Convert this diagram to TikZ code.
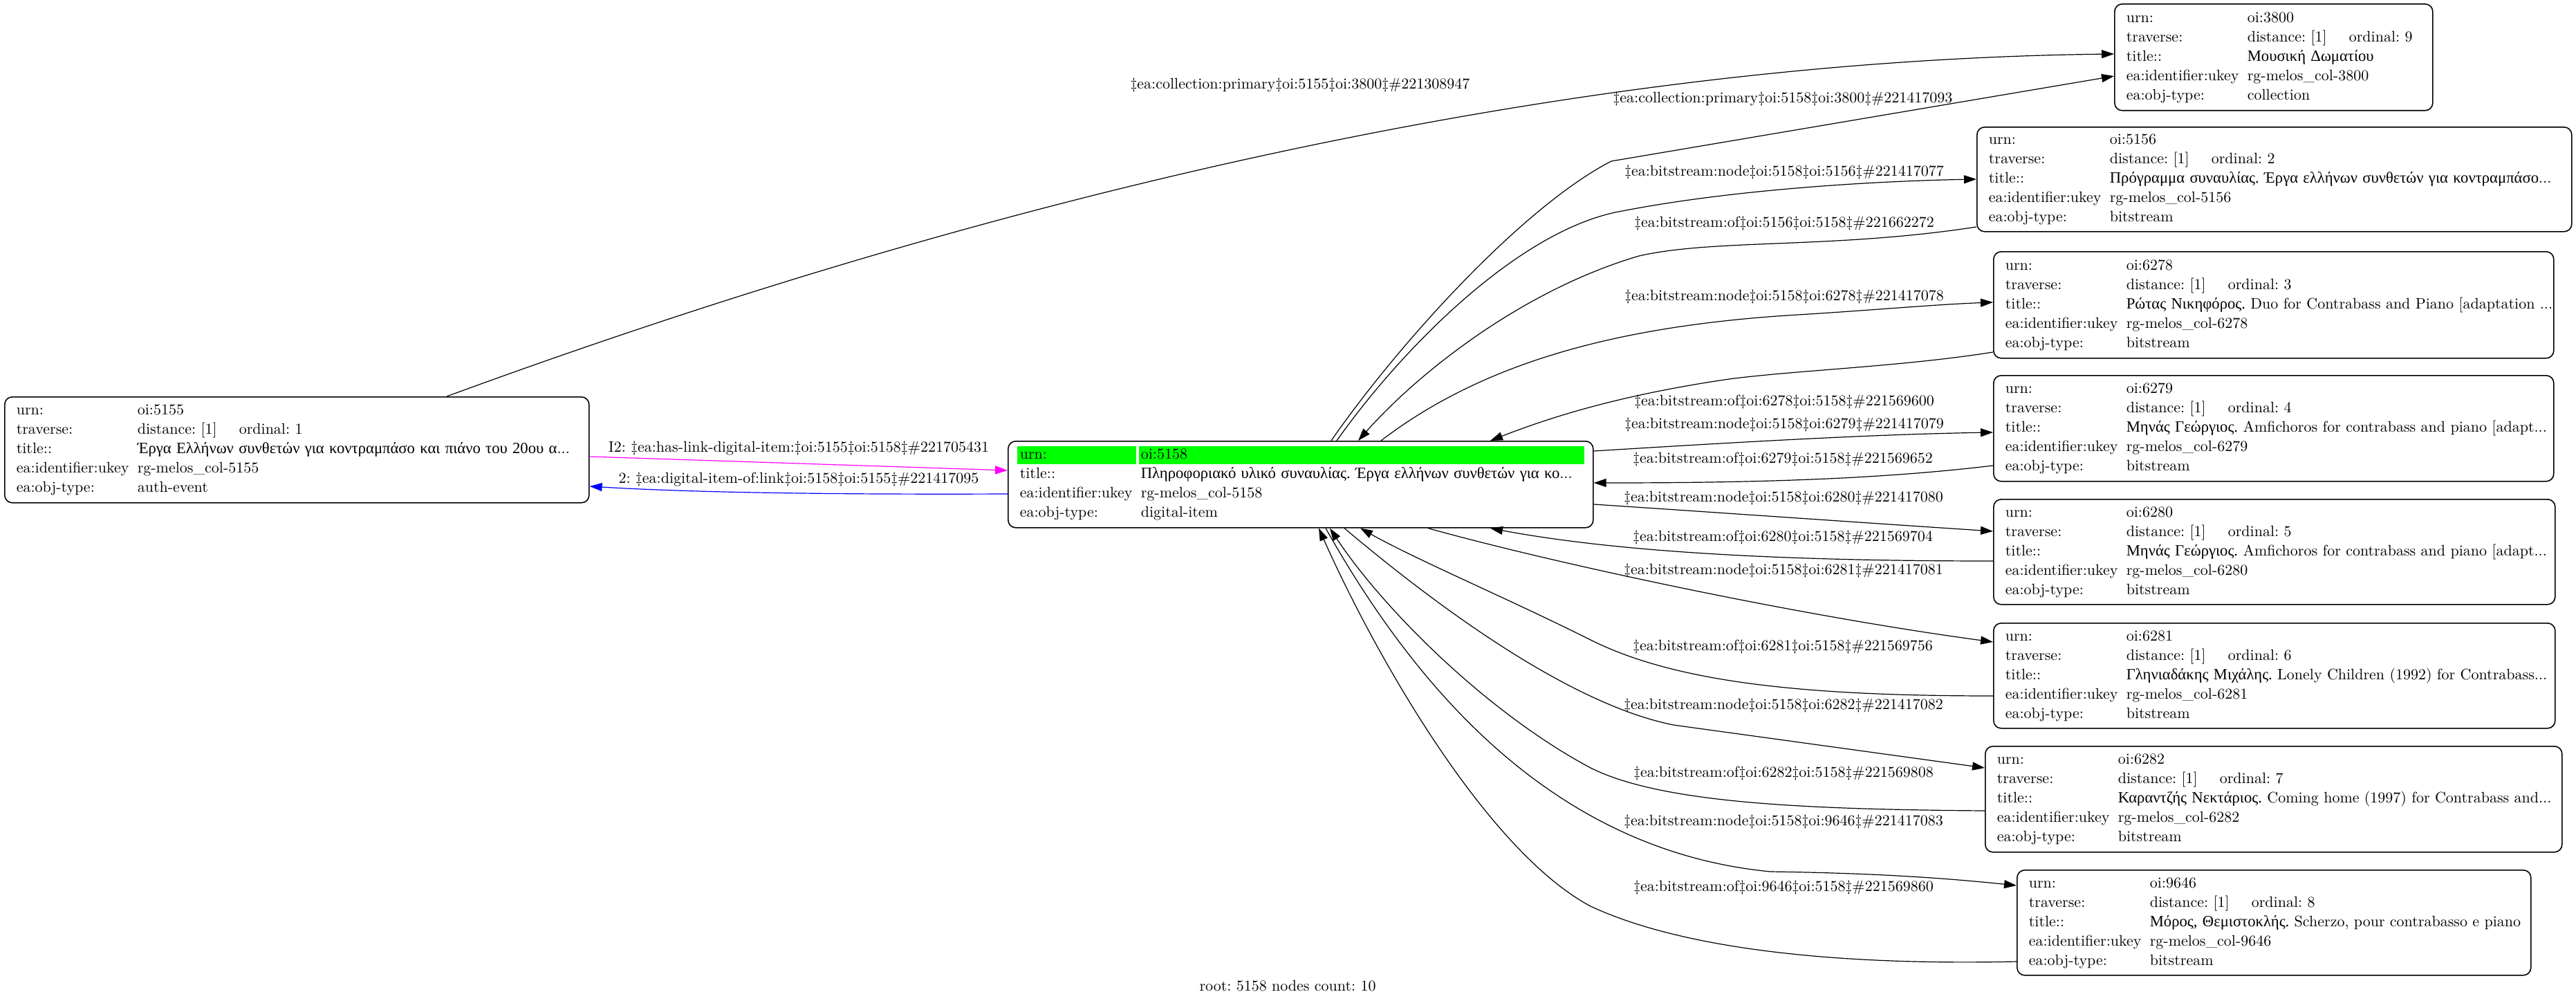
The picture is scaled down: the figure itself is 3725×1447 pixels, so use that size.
\documentclass[tikz,border=0pt]{standalone}
\usepackage{fontspec}
\setmainfont{lmroman10-regular.otf}[BoldFont=lmroman10-bold.otf, ItalicFont=lmroman10-italic.otf]
\newfontfamily\gr{Liberation Serif}[Scale=1.03]
\usetikzlibrary{arrows.meta,backgrounds}
\definecolor{gvgreen}{RGB}{0,255,0}
\definecolor{gvmag}{RGB}{255,0,255}
\definecolor{gvblue}{RGB}{0,0,255}
\newcommand\recrows[1]{\begin{tabular}{@{}p{175pt}@{}l@{}}#1\end{tabular}}
\newcommand\trav[1]{\makebox[147pt][l]{distance: [1]}ordinal: #1}
\newcommand\dg{\textdaggerdbl}
\frenchspacing
\tikzset{
  txt/.style={font=\fontsize{22}{28}\selectfont\frenchspacing},
  rec/.style={txt, draw=black, line width=1.6pt, rounded corners=11pt, anchor=north west,
              inner xsep=17pt, inner ysep=0pt, align=left},
  lbl/.style={txt, inner sep=0pt},
  conn/.style={line width=1.2pt, -{Triangle[length=18pt,width=12pt]}},
}
\begin{document}
\begin{tikzpicture}[x=1pt,y=-1pt]
\useasboundingbox (0,0) rectangle (3725,1447);

% ---------- nodes ----------
\node[rec, text width=811pt, minimum height=153pt] (n5155) at (6,573) {\recrows{
urn: & oi:5155\\
traverse: & \trav{1}\\
title:: & {\gr Έργα Ελλήνων συνθετών για κοντραμπάσο και πιάνο του 20ου α}...\\
ea:identifier:ukey & rg-melos\_col-5155\\
ea:obj-type: & auth-event}};

\node[rec, text width=812pt, minimum height=125pt] (n5158) at (1457,637) {\recrows{
urn: & oi:5158\\
title:: & {\gr Πληροφοριακό υλικό συναυλίας. Έργα ελλήνων συνθετών για κο}...\\
ea:identifier:ukey & rg-melos\_col-5158\\
ea:obj-type: & digital-item}};

\node[rec, text width=426pt, minimum height=154pt] (n3800) at (3057,5) {\recrows{
urn: & oi:3800\\
traverse: & \trav{9}\\
title:: & {\gr Μουσική Δωματίου}\\
ea:identifier:ukey & rg-melos\_col-3800\\
ea:obj-type: & collection}};

\node[rec, text width=826pt, minimum height=151pt] (n5156) at (2858,183) {\recrows{
urn: & oi:5156\\
traverse: & \trav{2}\\
title:: & {\gr Πρόγραμμα συναυλίας. Έργα ελλήνων συνθετών για κοντραμπάσο}...\\
ea:identifier:ukey & rg-melos\_col-5156\\
ea:obj-type: & bitstream}};

\node[rec, text width=776pt, minimum height=154pt] (n6278) at (2882,363) {\recrows{
urn: & oi:6278\\
traverse: & \trav{3}\\
title:: & {\gr Ρώτας Νικηφόρος.} Duo for Contrabass and Piano [adaptation ...\\
ea:identifier:ukey & rg-melos\_col-6278\\
ea:obj-type: & bitstream}};

\node[rec, text width=776pt, minimum height=153pt] (n6279) at (2882,542) {\recrows{
urn: & oi:6279\\
traverse: & \trav{4}\\
title:: & {\gr Μηνάς Γεώργιος.} Amfichoros for contrabass and piano [adapt...\\
ea:identifier:ukey & rg-melos\_col-6279\\
ea:obj-type: & bitstream}};

\node[rec, text width=778pt, minimum height=152pt] (n6280) at (2882,721) {\recrows{
urn: & oi:6280\\
traverse: & \trav{5}\\
title:: & {\gr Μηνάς Γεώργιος.} Amfichoros for contrabass and piano [adapt...\\
ea:identifier:ukey & rg-melos\_col-6280\\
ea:obj-type: & bitstream}};

\node[rec, text width=778pt, minimum height=152pt] (n6281) at (2882,900) {\recrows{
urn: & oi:6281\\
traverse: & \trav{6}\\
title:: & {\gr Γληνιαδάκης Μιχάλης.} Lonely Children (1992) for Contrabass...\\
ea:identifier:ukey & rg-melos\_col-6281\\
ea:obj-type: & bitstream}};

\node[rec, text width=800pt, minimum height=153pt] (n6282) at (2870,1078) {\recrows{
urn: & oi:6282\\
traverse: & \trav{7}\\
title:: & {\gr Καραντζής Νεκτάριος.} Coming home (1997) for Contrabass and...\\
ea:identifier:ukey & rg-melos\_col-6282\\
ea:obj-type: & bitstream}};

\node[rec, text width=709pt, minimum height=152pt] (n9646) at (2916,1257) {\recrows{
urn: & oi:9646\\
traverse: & \trav{8}\\
title:: & {\gr Μόρος, Θεμιστοκλής.} Scherzo, pour contrabasso e piano\\
ea:identifier:ukey & rg-melos\_col-9646\\
ea:obj-type: & bitstream}};

\begin{pgfonlayer}{background}
\fill[gvgreen] ([xshift=14pt,yshift=-8pt]n5158.north west) rectangle ([xshift=186pt,yshift=-34pt]n5158.north west);
\fill[gvgreen] ([xshift=190pt,yshift=-8pt]n5158.north west) rectangle ([xshift=834pt,yshift=-34pt]n5158.north west);
\end{pgfonlayer}

% ---------- connectors ----------
\draw[conn] ([xshift=640pt]n5155.north west) .. controls (1200,370) and (2100,90) .. ([yshift=-73pt]n3800.north west);
\draw[conn] ([xshift=468pt]n5158.north west) .. controls (2020,500) and (2200,300) .. (2330,233) -- ([yshift=-105pt]n3800.north west);
\draw[conn] ([xshift=476pt]n5158.north west) .. controls (2030,500) and (2200,330) .. (2346,305) .. controls (2500,275) and (2700,262) .. ([yshift=-76pt]n5156.north west);
\draw[conn] ([yshift=-145pt]n5156.north west) .. controls (2650,360) and (2480,345) .. (2370,370) .. controls (2200,420) and (2050,540) .. ([xshift=507pt]n5158.north west);
\draw[conn] ([xshift=540pt]n5158.north west) .. controls (2150,520) and (2350,470) .. (2600,455) .. controls (2700,449) and (2800,440) .. ([yshift=-74pt]n6278.north west);
\draw[conn] ([yshift=-146pt]n6278.north west) .. controls (2750,530) and (2600,535) .. (2500,548) .. controls (2350,570) and (2250,600) .. ([xshift=698pt]n5158.north west);
\draw[conn] ([yshift=-15pt]n5158.north east) .. controls (2500,640) and (2700,628) .. ([yshift=-83pt]n6279.north west);
\draw[conn] ([yshift=-131pt]n6279.north west) .. controls (2700,695) and (2500,698) .. ([yshift=-61pt]n5158.north east);
\draw[conn] ([yshift=-92pt]n5158.north east) .. controls (2500,742) and (2700,756) .. ([yshift=-47pt]n6280.north west);
\draw[conn] ([yshift=-90pt]n6280.north west) .. controls (2600,811) and (2350,800) .. ([xshift=698pt]n5158.south west);
\draw[conn] ([xshift=608pt]n5158.south west) .. controls (2250,815) and (2600,890) .. ([yshift=-28pt]n6281.north west);
\draw[conn] ([yshift=-106pt]n6281.north west) .. controls (2600,1006) and (2420,985) .. (2300,925) .. controls (2180,865) and (2050,810) .. ([xshift=510pt]n5158.south west);
\draw[conn] ([xshift=487pt]n5158.south west) .. controls (2100,895) and (2280,1020) .. (2420,1048) -- ([yshift=-32pt]n6282.north west);
\draw[conn] ([yshift=-94pt]n6282.north west) .. controls (2600,1170) and (2400,1160) .. (2300,1110) .. controls (2150,1030) and (2000,880) .. ([xshift=466pt]n5158.south west);
\draw[conn] ([xshift=460pt]n5158.south west) .. controls (2050,1000) and (2250,1230) .. (2560,1260) .. controls (2700,1262) and (2800,1268) .. ([yshift=-23pt]n9646.north west);
\draw[conn] ([yshift=-133pt]n9646.north west) .. controls (2700,1395) and (2450,1380) .. (2300,1310) .. controls (2150,1230) and (1990,950) .. ([xshift=450pt]n5158.south west);
\draw[conn, gvmag] ([yshift=-87pt]n5155.north east) -- ([yshift=-43pt]n5158.north west);
\draw[conn, gvblue] ([yshift=-77pt]n5158.north west) .. controls (1200,715) and (1000,712) .. ([yshift=-130pt]n5155.north east);

% ---------- labels ----------
\node[lbl] (l1) at (1880,123) {\dg ea:collection:primary\dg oi:5155\dg oi:3800\dg\#221308947};
\node[lbl] (l2) at (2578,143) {\dg ea:collection:primary\dg oi:5158\dg oi:3800\dg\#221417093};
\node[lbl] (l3) at (2580,249) {\dg ea:bitstream:node\dg oi:5158\dg oi:5156\dg\#221417077};
\node[lbl] (l4) at (2580,323) {\dg ea:bitstream:of\dg oi:5156\dg oi:5158\dg\#221662272};
\node[lbl] (l5) at (2580,429) {\dg ea:bitstream:node\dg oi:5158\dg oi:6278\dg\#221417078};
\node[lbl] (l6) at (2580,581) {\dg ea:bitstream:of\dg oi:6278\dg oi:5158\dg\#221569600};
\node[lbl] (l7) at (2580,614) {\dg ea:bitstream:node\dg oi:5158\dg oi:6279\dg\#221417079};
\node[lbl] (l8) at (2578,664) {\dg ea:bitstream:of\dg oi:6279\dg oi:5158\dg\#221569652};
\node[lbl] (l9) at (2579,720) {\dg ea:bitstream:node\dg oi:5158\dg oi:6280\dg\#221417080};
\node[lbl] (l10) at (2578,777) {\dg ea:bitstream:of\dg oi:6280\dg oi:5158\dg\#221569704};
\node[lbl] (l11) at (2579,825) {\dg ea:bitstream:node\dg oi:5158\dg oi:6281\dg\#221417081};
\node[lbl] (l12) at (2578,935) {\dg ea:bitstream:of\dg oi:6281\dg oi:5158\dg\#221569756};
\node[lbl] (l13) at (2579,1020) {\dg ea:bitstream:node\dg oi:5158\dg oi:6282\dg\#221417082};
\node[lbl] (l14) at (2579,1118) {\dg ea:bitstream:of\dg oi:6282\dg oi:5158\dg\#221569808};
\node[lbl] (l15) at (2579,1188) {\dg ea:bitstream:node\dg oi:5158\dg oi:9646\dg\#221417083};
\node[lbl] (l16) at (2579,1283) {\dg ea:bitstream:of\dg oi:9646\dg oi:5158\dg\#221569860};
\node[lbl] (l17) at (1155,648) {I2: \dg ea:has-link-digital-item:\dg oi:5155\dg oi:5158\dg\#221705431};
\node[lbl] (l18) at (1155,693) {2: \dg ea:digital-item-of:link\dg oi:5158\dg oi:5155\dg\#221417095};

\node[txt, inner sep=0pt] (cap) at (1862,1425) {root: 5158 nodes count: 10};
\end{tikzpicture}
\end{document}
